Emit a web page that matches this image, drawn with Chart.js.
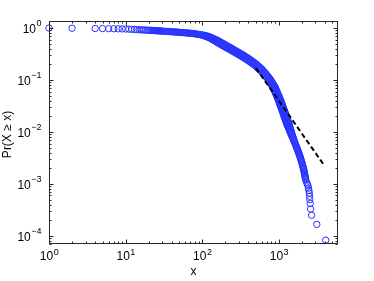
<!DOCTYPE html>
<html>
<head>
<meta charset="utf-8">
<script src="https://cdn.jsdelivr.net/npm/chart.js@4.4.1/dist/chart.umd.min.js"></script>
<style>
  html, body { margin: 0; padding: 0; background: #fff; }
  canvas { display: block; }
</style>
</head>
<body>
<canvas id="ccdf-canvas" width="374" height="281"></canvas>
<script>
const xValues = [
  1, 2, 4, 5, 6, 7, 8, 9, 10, 11, 12, 13, 14, 15, 16, 17, 18, 19, 20,
  21, 22, 23, 24, 25, 26, 27, 28, 29, 30, 32, 34, 36, 38, 40, 42, 44, 46, 48, 50,
  53, 56, 59, 62, 65, 68, 71, 75, 79, 83, 87, 91, 95, 100, 105, 110, 115, 120, 125, 130, 136,
  142, 148, 155, 162, 169, 177, 185, 193, 202, 211, 220, 230, 240, 251, 262, 274, 286, 299,
  312, 326, 341, 356, 372, 389, 406, 424, 443, 463, 484, 506, 529, 552, 577, 603, 630, 658,
  688, 719, 751,
  770, 790, 810, 830, 850, 870, 890, 910, 930, 950, 970, 990, 1010, 1025, 1040, 1055, 1070,
  1085, 1100, 1115, 1130, 1145, 1160, 1175, 1190, 1205, 1220, 1235, 1250, 1265, 1280, 1295,
  1310, 1325, 1340, 1355, 1370, 1385, 1400, 1415, 1430, 1445, 1460, 1475, 1495, 1515, 1535,
  1555, 1575, 1595, 1615, 1635, 1655, 1675, 1695, 1715, 1735, 1755, 1775, 1795, 1815, 1835,
  1855, 1875, 1895, 1915, 1935, 1955, 1975, 1995, 2015, 2035, 2055, 2075, 2090, 2105, 2120,
  2135, 2150, 2165, 2180, 2195, 2210, 2225, 2240,
  2290, 2350, 2400, 2430, 2460, 2490, 2510, 2530, 2560, 2590, 2670, 3120, 4080
];
const prValues = [
  1.000, 0.990, 0.978, 0.974, 0.971, 0.967, 0.964, 0.960, 0.957, 0.950, 0.943, 0.937, 0.932,
  0.927, 0.922, 0.917, 0.912, 0.908, 0.904,
  0.900, 0.897, 0.893, 0.890, 0.887, 0.884, 0.880, 0.878, 0.874, 0.871, 0.865, 0.860, 0.855,
  0.850, 0.846, 0.841, 0.837, 0.833, 0.830, 0.826,
  0.820, 0.815, 0.809, 0.804, 0.799, 0.795, 0.790, 0.785, 0.776, 0.766, 0.758, 0.750, 0.742,
  0.733, 0.717, 0.703, 0.689, 0.676, 0.660, 0.641, 0.619,
  0.598, 0.580, 0.560, 0.539, 0.520, 0.500, 0.482, 0.465, 0.447, 0.431, 0.417, 0.402, 0.388,
  0.3735, 0.360, 0.3467, 0.3342, 0.3219,
  0.3102, 0.2990, 0.2871, 0.2757, 0.2646, 0.2536, 0.2436, 0.2325, 0.2220, 0.2119, 0.2021,
  0.1910, 0.1800, 0.1701, 0.1604, 0.1512, 0.1398, 0.1294,
  0.1196, 0.1105, 0.1015,
  0.0955, 0.0897, 0.0844, 0.0796, 0.0751, 0.0710, 0.0656, 0.0607, 0.0562, 0.0522, 0.0486,
  0.0452, 0.0420, 0.0396, 0.0373, 0.0352, 0.0333,
  0.0315, 0.0298, 0.0282, 0.0267, 0.0253, 0.0239, 0.0227, 0.0215, 0.0203, 0.0193, 0.0183,
  0.0174, 0.0166, 0.0157, 0.0150,
  0.0143, 0.0136, 0.0129, 0.01236, 0.01183, 0.01132, 0.01082, 0.01035, 0.00991, 0.00950,
  0.00910, 0.00873, 0.00828, 0.00787, 0.00748,
  0.00711, 0.00676, 0.00644, 0.00615, 0.00587, 0.00561, 0.00536, 0.00512, 0.00490, 0.00469,
  0.00449, 0.00430, 0.00410, 0.00392, 0.00374,
  0.00358, 0.00342, 0.00327, 0.00313, 0.00299, 0.00283, 0.00269, 0.00255, 0.00242, 0.00229,
  0.00218, 0.00207, 0.00199, 0.00189, 0.00179,
  0.00170, 0.00162, 0.00154, 0.00146, 0.00139, 0.00132, 0.00126, 0.00120,
  0.00108, 0.00100, 0.00092, 0.00083, 0.00075, 0.00067, 0.00058, 0.00050, 0.00042, 0.00033,
  0.00025, 0.000167, 0.000083
];

// power-law fit (dashed)
const fitX = [500, 3800];
const fitPr = [0.17, 0.0024];

const xTicks = [1, 10, 100, 1000];
const xTickExps = ['0', '1', '2', '3'];
const yTicks = [1, 0.1, 0.01, 0.001, 0.0001];
const yTickExps = ['0', '\u22121', '\u22122', '\u22123', '\u22124'];

const FONT = '"Liberation Sans", Arial, sans-serif';

function minorTicks(lo, hi) {
  const out = [];
  for (let e = Math.floor(Math.log10(lo)); e <= Math.ceil(Math.log10(hi)); e++) {
    for (let m = 2; m <= 9; m++) {
      const v = m * Math.pow(10, e);
      if (v > lo && v < hi) out.push(v);
    }
  }
  return out;
}

// how much the markers pile up into a solid band (0..1)
const clamp01 = t => Math.max(0, Math.min(1, t));
const pileUp = p => clamp01((Math.log10(p.x) - 1.95) / 0.3) * clamp01((Math.log10(p.y) + 2.2) / 0.4);
const fillUp = p => (p.x >= 22 ? 1 : 0) * clamp01((Math.log10(p.y) + 2.0) / 0.3);

// matlab-like box with inward ticks and 10^n labels
const matlabAxes = {
  id: 'matlabAxes',
  afterDatasetsDraw(chart) {
    const { ctx, chartArea: a, scales: { x, y } } = chart;
    const L = Math.round(a.left) + 0.5, R = Math.round(a.right) - 0.5;
    const T = Math.round(a.top) + 0.5, B = Math.round(a.bottom) - 0.5;
    ctx.save();
    ctx.strokeStyle = '#262626';
    ctx.lineWidth = 1;
    ctx.beginPath();
    const xt = (v, len) => {
      const p = Math.round(x.getPixelForValue(v)) + 0.5;
      ctx.moveTo(p, B); ctx.lineTo(p, B - len);
      ctx.moveTo(p, T); ctx.lineTo(p, T + len);
    };
    const yt = (v, len) => {
      const p = Math.round(y.getPixelForValue(v)) + 0.5;
      ctx.moveTo(L, p); ctx.lineTo(L + len, p);
      ctx.moveTo(R, p); ctx.lineTo(R - len, p);
    };
    xTicks.forEach(v => xt(v, 4));
    minorTicks(x.min, x.max).forEach(v => xt(v, 2));
    yTicks.forEach(v => yt(v, 4));
    minorTicks(y.min, y.max).forEach(v => yt(v, 2));
    ctx.stroke();
    ctx.strokeRect(L, T, R - L, B - T);

    ctx.fillStyle = '#000';
    ctx.textBaseline = 'middle';
    ctx.textAlign = 'left';
    const base = '12px ' + FONT, sup = '9px ' + FONT;
    // x labels
    xTicks.forEach((v, i) => {
      ctx.font = base; const w1 = ctx.measureText('10').width;
      ctx.font = sup; const w2 = ctx.measureText(xTickExps[i]).width;
      const px = x.getPixelForValue(v);
      const x0 = px - (w1 + w2) / 2;
      ctx.font = base; ctx.fillText('10', x0, a.bottom + 13);
      ctx.font = sup; ctx.fillText(xTickExps[i], x0 + w1 + 0.5, a.bottom + 9);
    });
    // y labels
    yTicks.forEach((v, i) => {
      ctx.font = base; const w1 = ctx.measureText('10').width;
      ctx.font = sup; const w2 = ctx.measureText(yTickExps[i]).width;
      const py = y.getPixelForValue(v);
      const x0 = a.left - 8 - w1 - w2;
      ctx.font = base; ctx.fillText('10', x0, py + 1.5);
      ctx.font = sup; ctx.fillText(yTickExps[i], x0 + w1 + 0.5, py - 4.5);
    });
    // axis titles
    ctx.font = base;
    ctx.textAlign = 'center';
    ctx.fillText('x', (a.left + a.right) / 2, 272);
    ctx.translate(8, (a.top + a.bottom) / 2 + 2);
    ctx.rotate(-Math.PI / 2);
    ctx.fillText('Pr(X \u2265 x)', 0, 0);
    ctx.restore();
  }
};

const ctx = document.getElementById('ccdf-canvas').getContext('2d');
const chart = new Chart(ctx, {
  type: 'scatter',
  data: {
    datasets: [{
      label: 'fit',
      type: 'line',
      order: 0,
      data: fitX.map((v, i) => ({ x: v, y: fitPr[i] })),
      borderColor: '#000',
      borderWidth: 2,
      borderDash: [5, 3],
      pointRadius: 0,
      fill: false,
      clip: false
    }, {
      label: 'data',
      order: 1,
      data: xValues.map((v, i) => ({ x: v, y: prValues[i] })),
      pointStyle: 'circle',
      pointRadius: c => (c.raw ? 3.2 + 1.0 * pileUp(c.raw) : 3.2),
      borderWidth: 1,
      borderColor: 'rgb(40, 50, 255)',
      backgroundColor: c => 'rgba(40, 55, 255, ' + (c.raw ? 0.45 * fillUp(c.raw) : 0) + ')',
      clip: false
    }]
  },
  options: {
    responsive: false,
    animation: false,
    devicePixelRatio: 1,
    layout: { padding: { left: 49, top: 21, right: 36, bottom: 37 } },
    plugins: { legend: { display: false }, tooltip: { enabled: false } },
    scales: {
      x: { type: 'logarithmic', min: 1, max: 5900, display: false },
      y: { type: 'logarithmic', min: 7.0e-5, max: 1.363, display: false }
    }
  },
  plugins: [matlabAxes]
});
</script>
</body>
</html>
